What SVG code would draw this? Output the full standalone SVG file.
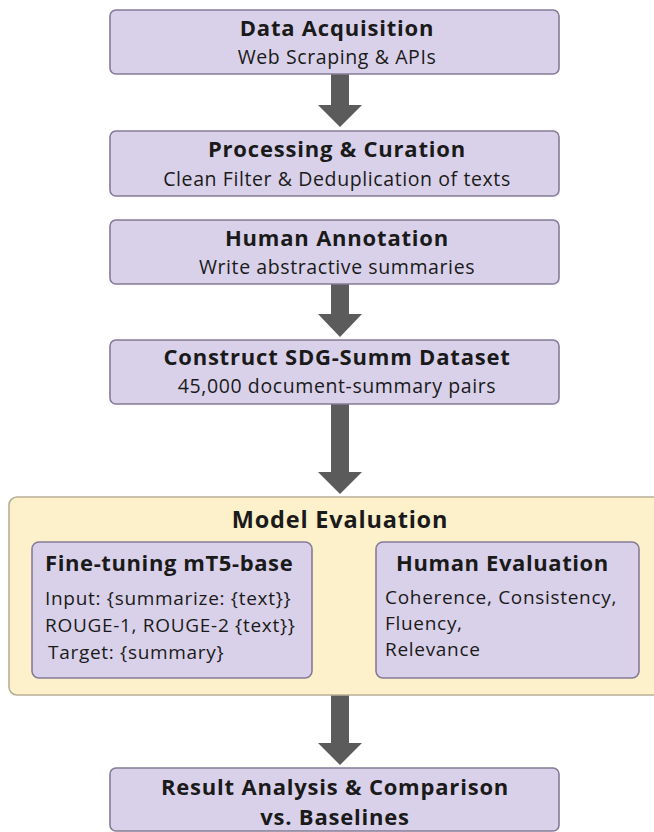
<svg xmlns="http://www.w3.org/2000/svg" width="654" height="832" viewBox="0 0 654 832">
<defs>
<style>
.box{fill:#D9D1E9;stroke:#857B97;stroke-width:1.6}
.outer{fill:#FCF1CA;stroke:#B9AF98;stroke-width:1.6}
.arrow{fill:#5B5B5B}
.t{font-family:"Open Sans","Liberation Sans",sans-serif;font-weight:bold;font-size:22px;letter-spacing:0.8px;fill:#1A1A1A;text-anchor:middle}
.s{font-family:"Open Sans","Liberation Sans",sans-serif;font-size:19.5px;letter-spacing:0.6px;fill:#1A1A1A;text-anchor:middle}
.tl{font-family:"Open Sans","Liberation Sans",sans-serif;font-weight:bold;font-size:22px;letter-spacing:0.6px;fill:#1A1A1A}
.sl{font-family:"Open Sans","Liberation Sans",sans-serif;font-size:19px;letter-spacing:0.7px;fill:#1A1A1A}
</style>
</defs>
<rect width="654" height="832" fill="#FFFFFF"/>
<g id="connectors">
<polygon class="arrow" points="331,74 349,74 349,105 362,105 340,127 318,105 331,105"/>
<polygon class="arrow" points="331,284 349,284 349,314 362,314 340,337 318,314 331,314"/>
<polygon class="arrow" points="331,404 349,404 349,472 362,472 340,494 318,472 331,472"/>
<polygon class="arrow" points="331,695 349,695 349,743 362,743 340,765 318,743 331,743"/>
<polygon class="arrow" points="325,598 335,592 335,596 352,596 352,601 335,601 335,605"/>
<polygon class="arrow" points="316,607 358,607 358,602 372,617 358,633 358,627 316,627"/>
</g>
<g id="data-acquisition">
<rect class="box" x="110" y="10" width="449" height="64" rx="6"/>
<text class="t" x="337" y="36">Data Acquisition</text>
<text class="s" x="337" y="64">Web Scraping &amp; APIs</text>
</g>
<g id="processing-curation">
<rect class="box" x="110" y="131" width="449" height="65" rx="6"/>
<text class="t" x="337" y="157">Processing &amp; Curation</text>
<text class="s" x="337" y="186">Clean Filter &amp; Deduplication of texts</text>
</g>
<g id="human-annotation">
<rect class="box" x="110" y="220" width="449" height="64" rx="6"/>
<text class="t" x="337" y="246">Human Annotation</text>
<text class="s" x="337" y="274">Write abstractive summaries</text>
</g>
<g id="construct-dataset">
<rect class="box" x="110" y="340" width="449" height="64" rx="6"/>
<text class="t" x="337" y="365">Construct SDG-Summ Dataset</text>
<text class="s" x="337" y="393">45,000 document-summary pairs</text>
</g>
<g id="model-evaluation">
<rect class="outer" x="9" y="497" width="660" height="198" rx="8"/>
<text class="t" x="340" y="528" style="font-size:23.5px">Model Evaluation</text>
</g>
<g id="fine-tuning">
<rect class="box" x="32" y="542" width="280" height="136" rx="7"/>
<text class="tl" x="45" y="571">Fine-tuning mT5-base</text>
<text class="sl" x="45" y="605">Input: {summarize: {text}}</text>
<text class="sl" x="45" y="632">ROUGE-1, ROUGE-2 {text}}</text>
<text class="sl" x="48" y="659">Target: {summary}</text>
</g>
<g id="human-evaluation">
<rect class="box" x="376" y="542" width="263" height="136" rx="7"/>
<text class="tl" x="396" y="571">Human Evaluation</text>
<text class="sl" x="385" y="604">Coherence, Consistency,</text>
<text class="sl" x="385" y="630">Fluency,</text>
<text class="sl" x="385" y="656">Relevance</text>
</g>
<g id="result-analysis">
<rect class="box" x="110" y="768" width="449" height="63" rx="6"/>
<text class="t" x="335" y="795">Result Analysis &amp; Comparison</text>
<text class="t" x="335" y="825">vs. Baselines</text>
</g>
</svg>
